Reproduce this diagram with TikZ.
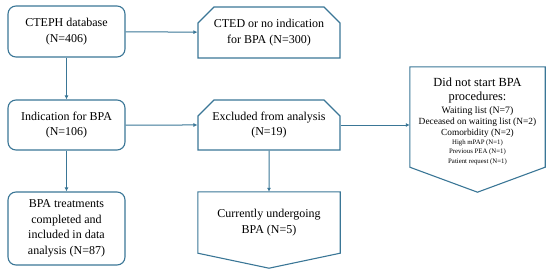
\documentclass[tikz,border=0pt]{standalone}
\usepackage{fontspec}
\setmainfont{Liberation Serif}
\usetikzlibrary{arrows.meta,calc,shapes.misc}
\definecolor{flowblue}{RGB}{58,118,150}

\begin{document}
\begin{tikzpicture}[x=1pt, y=-1pt,
  font=\fontsize{12}{15.5}\selectfont,
  roundbox/.style={draw=flowblue, line width=1.1pt, rounded corners=8pt,
                   align=center, inner sep=2pt},
  snipbox/.style={draw=flowblue, line width=1.1pt, chamfered rectangle,
                  chamfered rectangle corners={north west,north east},
                  chamfered rectangle xsep=8pt, chamfered rectangle ysep=8pt,
                  align=center, inner sep=2pt},
  downbox/.style={align=center, inner sep=0pt},
  outline/.style={draw=flowblue, line width=1.1pt},
  flow/.style={draw=flowblue, line width=1pt, -{Latex[length=4pt,width=4pt]}}
]
\useasboundingbox (0,0) rectangle (550,276);

% Linker Strang
\node[roundbox, minimum width=117pt, minimum height=51pt]
  (cteph) at (66.5,31.5) {CTEPH database\\(N=406)};
\node[roundbox, minimum width=117pt, minimum height=50pt]
  (indic) at (66.5,125) {Indication for BPA\\(N=106)};
\node[roundbox, minimum width=117pt, minimum height=73pt]
  (treated) at (66.5,228.5) {BPA treatments\\completed and\\included in data\\analysis (N=87)};

% Mittlerer Strang
\node[snipbox, minimum width=142pt, minimum height=51pt]
  (cted) at (269,32.5) {CTED or no indication\\for BPA (N=300)};
\node[snipbox, minimum width=142pt, minimum height=50pt]
  (excl) at (269,125) {Excluded from analysis\\(N=19)};
\node[downbox, minimum width=142pt, minimum height=61pt]
  (current) at (269,222.5) {Currently undergoing\\BPA (N=5)};
\draw[outline] (current.north west) -- (current.north east) -- (current.south east)
  -- ($(current.south)+(0,15)$) -- (current.south west) -- cycle;

% Rechter Kasten
\node[downbox, align=flush center, text width=135pt, minimum height=100pt]
  (notstart) at (477.5,117) {%
  \fontsize{12.4}{13}\selectfont \rule{0pt}{17pt}Did not start BPA\par
  \fontsize{12.4}{14}\selectfont procedures:\par
  \fontsize{9.8}{13}\selectfont Waiting list (N=7)\par
  \fontsize{9.4}{11}\selectfont Deceased on waiting list (N=2)\par
  \fontsize{9.3}{11}\selectfont Comorbidity (N=2)\par
  \fontsize{6.8}{9}\selectfont High mPAP (N=1)\par
  \fontsize{6.8}{9}\selectfont Previous PEA (N=1)\par
  \fontsize{6.8}{10}\selectfont Patient request (N=1)\par};
\draw[outline] (notstart.north west) -- (notstart.north east) -- (notstart.south east)
  -- ($(notstart.south)+(0,25)$) -- (notstart.south west) -- cycle;

% Verbindungen
\draw[flow] (cteph) -- (cted);
\draw[flow] (cteph) -- (indic);
\draw[flow] (indic) -- (excl);
\draw[flow] (indic) -- (treated);
\draw[flow] (excl) -- (current);
\draw[flow] (excl.east) -- (excl.east -| notstart.west);

\end{tikzpicture}
\end{document}
